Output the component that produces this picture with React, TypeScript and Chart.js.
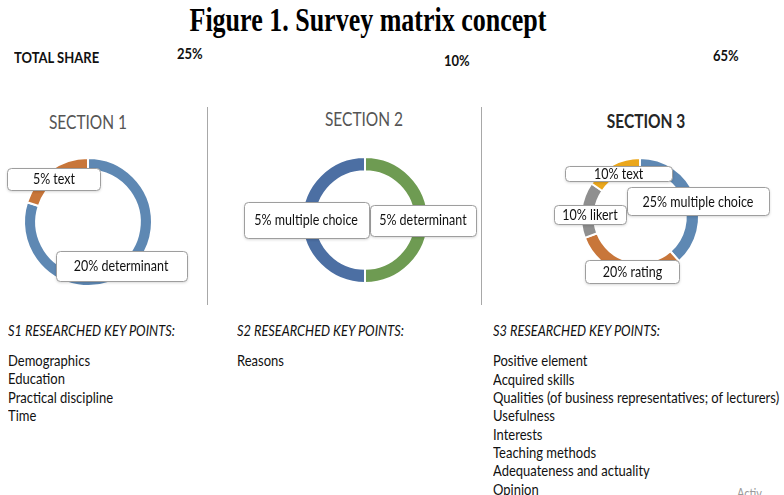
import React, { useEffect, useRef } from 'react';
import { Chart, registerables } from 'chart.js';

Chart.register(...registerables);

// ---------------- data ----------------
const figureTitle = 'Figure 1. Survey matrix concept';
const totalShareLabel = 'TOTAL SHARE';
const totalShares = [25, 10, 65];
const sectionTitles = ['SECTION 1', 'SECTION 2', 'SECTION 3'];

const s1Categories = ['determinant', 'text'];
const s1Values = [20, 5];

const s2Categories = ['determinant', 'multiple choice'];
const s2Values = [5, 5];

const s3Categories = ['multiple choice', 'rating', 'likert', 'text'];
const s3Values = [25, 20, 10, 10];

const keyPointHeaders = [
  'S1 RESEARCHED KEY POINTS:',
  'S2 RESEARCHED KEY POINTS:',
  'S3 RESEARCHED KEY POINTS:',
];
const s1Points = ['Demographics', 'Education', 'Practical discipline', 'Time'];
const s2Points = ['Reasons'];
const s3Points = [
  'Positive element',
  'Acquired skills',
  'Qualities (of business representatives; of lecturers)',
  'Usefulness',
  'Interests',
  'Teaching methods',
  'Adequateness and actuality',
  'Opinion',
];

// ---------------- styles ----------------
const FONT = 'Lato, Carlito, "Open Sans", sans-serif';
const STRETCH = 1.18;

const s1Colors = ['#5E88B3', '#C8763A'];
const s2Colors = ['#6E9B52', '#4C6FA3'];
const s3Colors = ['#5E88B3', '#C8763A', '#8F8F8F', '#EBA71C'];

const labelBoxPlugin = {
  id: 'labelBoxes',
  afterDatasetsDraw(chart: any, _args: any, opts: any) {
    const ctx = chart.ctx;
    const meta = chart.getDatasetMeta(0);
    const ds = chart.data.datasets[0];
    meta.data.forEach((arc: any, i: number) => {
      const p = arc.getProps(['x', 'y', 'startAngle', 'endAngle', 'innerRadius', 'outerRadius'], true);
      const mid = (p.startAngle + p.endAngle) / 2;
      const rr = (p.innerRadius + p.outerRadius) / 2;
      const [dx, dy] = opts.offsets[i];
      const [w, h] = opts.sizes[i];
      const cx = p.x + Math.cos(mid) * rr + dx;
      const cy = p.y + Math.sin(mid) * rr + dy;
      const x0 = Math.round(cx - w / 2) + 0.5;
      const y0 = Math.round(cy - h / 2) + 0.5;
      ctx.save();
      ctx.shadowColor = 'rgba(0,0,0,0.2)';
      ctx.shadowBlur = 3;
      ctx.shadowOffsetY = 1;
      ctx.beginPath();
      ctx.roundRect(x0, y0, w, h, 4);
      ctx.fillStyle = '#ffffff';
      ctx.fill();
      ctx.shadowColor = 'transparent';
      ctx.lineWidth = 1;
      ctx.strokeStyle = '#9E9E9E';
      ctx.stroke();
      ctx.translate(cx, cy + 0.5);
      ctx.scale(1, STRETCH);
      ctx.fillStyle = '#111111';
      ctx.font = `12.5px ${FONT}`;
      ctx.textAlign = 'center';
      ctx.textBaseline = 'middle';
      ctx.fillText(`${ds.data[i]}% ${chart.data.labels[i]}`, 0, 0);
      ctx.restore();
    });
  },
};

type DonutProps = {
  categories: string[];
  values: number[];
  colors: string[];
  left: number;
  top: number;
  width: number;
  height: number;
  cx: number;
  cy: number;
  radius: number;
  thickness: number;
  sizes: number[][];
  offsets: number[][];
};

function Donut(props: DonutProps) {
  const ref = useRef<HTMLCanvasElement>(null);
  useEffect(() => {
    if (!ref.current) return;
    const { width, height, cx, cy, radius, thickness } = props;
    const chart = new Chart(ref.current, {
      type: 'doughnut',
      data: {
        labels: props.categories,
        datasets: [
          {
            data: props.values,
            backgroundColor: props.colors,
            borderColor: '#ffffff',
            borderWidth: 2,
          },
        ],
      },
      options: {
        animation: false,
        responsive: false,
        maintainAspectRatio: false,
        radius: radius,
        cutout: radius - thickness,
        layout: {
          padding: {
            left: cx - radius,
            right: width - cx - radius,
            top: cy - radius,
            bottom: height - cy - radius,
          },
        },
        plugins: {
          legend: { display: false },
          tooltip: { enabled: false },
          labelBoxes: { sizes: props.sizes, offsets: props.offsets },
        } as any,
      } as any,
      plugins: [labelBoxPlugin as any],
    });
    return () => chart.destroy();
  }, []);
  return (
    <canvas
      ref={ref}
      width={props.width}
      height={props.height}
      style={{ position: 'absolute', left: props.left, top: props.top, width: props.width, height: props.height }}
    />
  );
}

function Txt(p: {
  x: number;
  y: number;
  size: number;
  children: any;
  bold?: boolean | number;
  italic?: boolean;
  color?: string;
  center?: boolean;
  family?: string;
  stretch?: number;
}) {
  const style: any = {
    position: 'absolute',
    top: p.y - p.size * 0.55,
    fontSize: p.size,
    lineHeight: 1,
    fontFamily: p.family || FONT,
    fontWeight: p.bold === true ? 700 : p.bold || 400,
    fontStyle: p.italic ? 'italic' : 'normal',
    color: p.color || '#111',
    whiteSpace: 'nowrap',
    transform: `scaleY(${p.stretch || STRETCH})`,
    transformOrigin: '50% 55%',
  };
  if (p.center) {
    style.left = p.x - 200;
    style.width = 400;
    style.textAlign = 'center';
  } else {
    style.left = p.x;
  }
  return <div style={style}>{p.children}</div>;
}

function List(p: { x: number; y: number; items: string[] }) {
  return (
    <>
      {p.items.map((t, i) => (
        <Txt key={i} x={p.x} y={p.y + i * 18.35} size={13}>
          {t}
        </Txt>
      ))}
    </>
  );
}

export default function App() {
  useEffect(() => {
    document.body.style.margin = '0';
  }, []);
  const shareX = [177, 444, 713];
  const shareY = [54, 61, 56];
  const secX = [88, 364, 646];
  const secY = [124, 121, 123];
  const colX = [8, 237, 493];
  return (
    <div style={{ position: 'fixed', left: 0, top: 0, width: 784, height: 495, background: '#fff', overflow: 'hidden' }}>
      <Txt x={368} y={22} size={26} bold center stretch={1.27} family='"Liberation Serif", "Times New Roman", serif' color="#000">
        {figureTitle}
      </Txt>
      <Txt x={14} y={58} size={13} bold color="#111">
        {totalShareLabel}
      </Txt>
      {totalShares.map((v, i) => (
        <Txt key={i} x={shareX[i]} y={shareY[i]} size={13} bold color="#111">
          {`${v}%`}
        </Txt>
      ))}
      {sectionTitles.map((t, i) => (
        <Txt key={i} x={secX[i]} y={secY[i]} size={15.5} center bold={i === 2 ? 700 : 400} color={i === 2 ? '#262626' : '#555'}>
          {t}
        </Txt>
      ))}
      <div style={{ position: 'absolute', left: 207, top: 107, width: 1, height: 198, background: '#A8A8A8' }} />
      <div style={{ position: 'absolute', left: 481, top: 107, width: 1, height: 198, background: '#A8A8A8' }} />

      <Donut
        categories={s1Categories}
        values={s1Values}
        colors={s1Colors}
        left={0}
        top={135}
        width={207}
        height={165}
        cx={88}
        cy={87}
        radius={64}
        thickness={13}
        sizes={[
          [131, 30],
          [93, 22],
        ]}
        offsets={[
          [-1, -3],
          [0, 4],
        ]}
      />
      <Donut
        categories={s2Categories}
        values={s2Values}
        colors={s2Colors}
        left={208}
        top={135}
        width={273}
        height={165}
        cx={157}
        cy={85}
        radius={63}
        thickness={15}
        sizes={[
          [106, 31],
          [125, 36],
        ]}
        offsets={[
          [2, 0],
          [-3, 0],
        ]}
      />
      <Donut
        categories={s3Categories}
        values={s3Values}
        colors={s3Colors}
        left={482}
        top={135}
        width={302}
        height={165}
        cx={158}
        cy={82}
        radius={59}
        thickness={14}
        sizes={[
          [142, 28],
          [94, 23],
          [72, 19],
          [107, 15],
        ]}
        offsets={[
          [9, 3],
          [5, 4],
          [2, 4],
          [3, 3],
        ]}
      />

      {keyPointHeaders.map((h, i) => (
        <Txt key={i} x={colX[i]} y={331} size={12.8} italic>
          {h}
        </Txt>
      ))}
      <List x={colX[0]} y={361} items={s1Points} />
      <List x={colX[1]} y={361} items={s2Points} />
      <List x={colX[2]} y={361.5} items={s3Points} />
      <Txt x={737} y={493} size={11} color="#9a9a9a">
        Activ
      </Txt>
    </div>
  );
}
